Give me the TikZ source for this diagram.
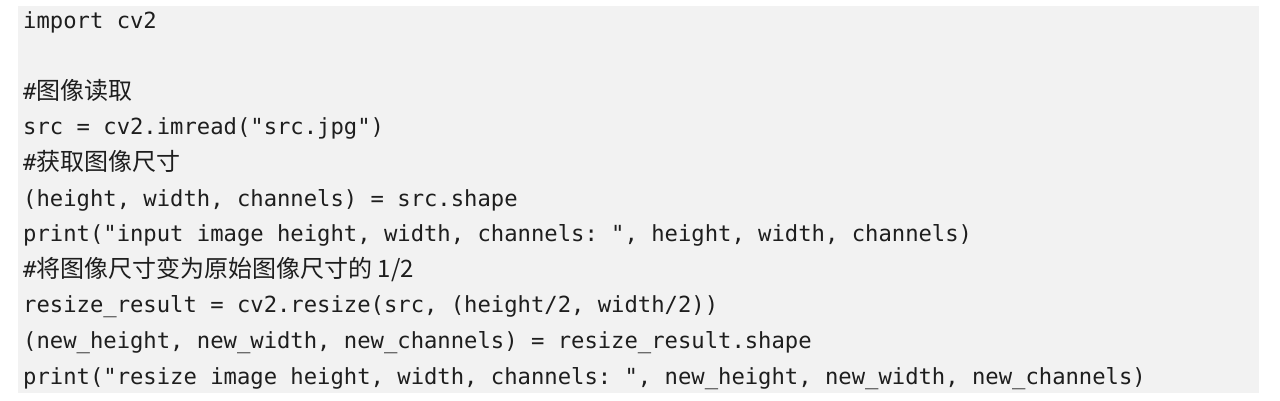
\documentclass[tikz,border=0pt]{standalone}
\usepackage{fontspec}
\setmonofont{DejaVu Sans Mono}
\newfontfamily\cjk{Noto Sans CJK SC}
\usepackage{xcolor}
\usepackage{tikz}

\definecolor{codebg}{HTML}{F2F2F2}
\definecolor{codefg}{HTML}{1E1E1E}

\begin{document}
\begin{tikzpicture}[
    x=1pt, y=-1pt,
    codeline/.style={anchor=base west, inner sep=0pt, text=codefg, font=\ttfamily\fontsize{22.2}{26}\selectfont},
    comment/.style={codeline}
]
\useasboundingbox (0,0) rectangle (1280,400);
\fill[codebg] (18,6) rectangle (1259,393);

\node[codeline] (imp) at (23,28) {import cv2};
\node[comment] (c1) at (23,99.2) {\#{\cjk\fontsize{24}{26}\selectfont 图像读取}};
\node[codeline] (read) at (23,134.8) {src = cv2.imread("src.jpg")};
\node[comment] (c2) at (23,170.4) {\#{\cjk\fontsize{24}{26}\selectfont 获取图像尺寸}};
\node[codeline] (shape) at (23,206) {(height, width, channels) = src.shape};
\node[codeline] (print1) at (23,241.6) {print("input image height, width, channels: ", height, width, channels)};
\node[comment] (c3) at (23,277.2) {\#{\cjk\fontsize{24}{26}\selectfont 将图像尺寸变为原始图像尺寸的 1/2}};
\node[codeline] (resize) at (23,312.8) {resize\_result = cv2.resize(src, (height/2, width/2))};
\node[codeline] (shape2) at (23,348.4) {(new\_height, new\_width, new\_channels) = resize\_result.shape};
\node[codeline] (print2) at (23,384) {print("resize image height, width, channels: ", new\_height, new\_width, new\_channels)};

\end{tikzpicture}
\end{document}
